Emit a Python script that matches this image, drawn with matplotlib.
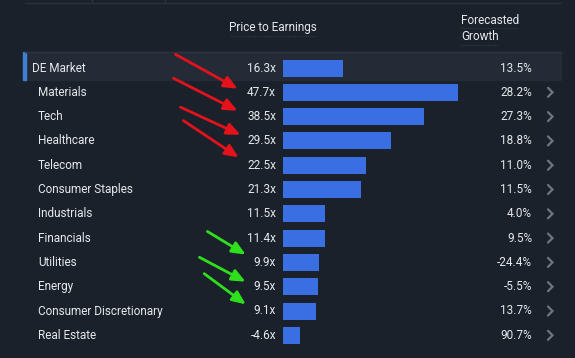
import matplotlib.pyplot as plt
from matplotlib.patches import Rectangle

plt.rcParams['font.family'] = ['Roboto', 'DejaVu Sans']

sectors = ['DE Market', 'Materials', 'Tech', 'Healthcare', 'Telecom',
           'Consumer Staples', 'Industrials', 'Financials', 'Utilities',
           'Energy', 'Consumer Discretionary', 'Real Estate']
pe = [16.3, 47.7, 38.5, 29.5, 22.5, 21.3, 11.5, 11.4, 9.9, 9.5, 9.1, -4.6]
growth = [13.5, 28.2, 27.3, 18.8, 11.0, 11.5, 4.0, 9.5, -24.4, -5.5, 13.7, 90.7]

# arrows drawn over the screenshot (pixel coords: start, end)
red_arrows = [((173, 53), (240, 90)), ((171, 77), (240, 112)),
              ((178, 106), (243, 136)), ((181, 119), (241, 159))]
green_arrows = [((205, 230), (248, 256)), ((197, 256), (248, 283)),
                ((202, 272), (248, 306))]

bg = '#1b212b'
txt = '#e6e8eb'
blue = '#3a6fe3'

W, H = 575, 358
fig = plt.figure(figsize=(W / 100, H / 100), dpi=100, facecolor=bg)
ax = fig.add_axes([0, 0, 1, 1])
ax.set_xlim(0, W)
ax.set_ylim(H, 0)
ax.axis('off')

row0, pitch = 68, 24.3
rows = [row0 + pitch * i for i in range(len(sectors))]

# top strip lines
ax.plot([25, 561], [3, 3], color='#2a313c', lw=1)
for xv in (92, 165):
    ax.plot([xv, xv], [0, 3], color='#2a313c', lw=1)

# header
ax.text(273, 28, 'Price to Earnings', color=txt, fontsize=8.5, ha='center', va='center')
ax.plot([230, 316], [36, 36], color='#2e3a4e', lw=0.8, ls=(0, (1, 1)))
ax.text(461, 20, 'Forecasted', color=txt, fontsize=8.5, ha='left', va='center')
ax.plot([461, 518], [28, 28], color='#2e3a4e', lw=0.8, ls=(0, (1, 1)))
ax.text(461, 37, 'Growth', color=txt, fontsize=8.5, ha='left', va='center')
ax.plot([461, 498], [45, 45], color='#2e3a4e', lw=0.8, ls=(0, (1, 1)))
ax.plot([25, 561], [52, 52], color='#2d3440', lw=1)

# highlighted market row
ax.add_patch(Rectangle((25, 52), 536, 28, color='#242b36', zorder=0))
ax.add_patch(Rectangle((23, 52), 3, 28, color='#3f7fd4', zorder=1))

for i, (name, v, g) in enumerate(zip(sectors, pe, growth)):
    y = rows[i]
    ax.text(32 if i == 0 else 38, y, name, color=txt, fontsize=8.5, va='center', ha='left')
    ax.text(276, y, f'{v:.1f}x', color=txt, fontsize=8.5, va='center', ha='right')
    ax.text(532, y, f'{g:.1f}%', color=txt, fontsize=8.5, va='center', ha='right')
    if i > 0:
        # chevron
        ax.plot([548, 552.5, 548], [y - 4.5, y, y + 4.5], color='#6f7580',
                lw=1.6, solid_capstyle='round', solid_joinstyle='miter')

# bars axis: 0 at x=283 px, 3.67 px per unit
px_per = 3.67
xmax = 50
bax = fig.add_axes([283 / W, 0, xmax * px_per / W, 1])
bax.set_xlim(0, xmax)
bax.set_ylim(H, 0)
bax.axis('off')
bax.patch.set_alpha(0)
bax.barh(rows, [abs(v) for v in pe], height=17, color=blue)

for (x0, y0), (x1, y1) in red_arrows:
    ax.annotate('', xy=(x1, y1), xytext=(x0, y0),
                arrowprops=dict(arrowstyle='-|>,head_length=0.8,head_width=0.35',
                                color='#e3121b', lw=2), zorder=5)
for (x0, y0), (x1, y1) in green_arrows:
    ax.annotate('', xy=(x1, y1), xytext=(x0, y0),
                arrowprops=dict(arrowstyle='-|>,head_length=0.8,head_width=0.35',
                                color='#2ee01c', lw=2), zorder=5)

fig.savefig('out.png', dpi=100, facecolor=bg)
